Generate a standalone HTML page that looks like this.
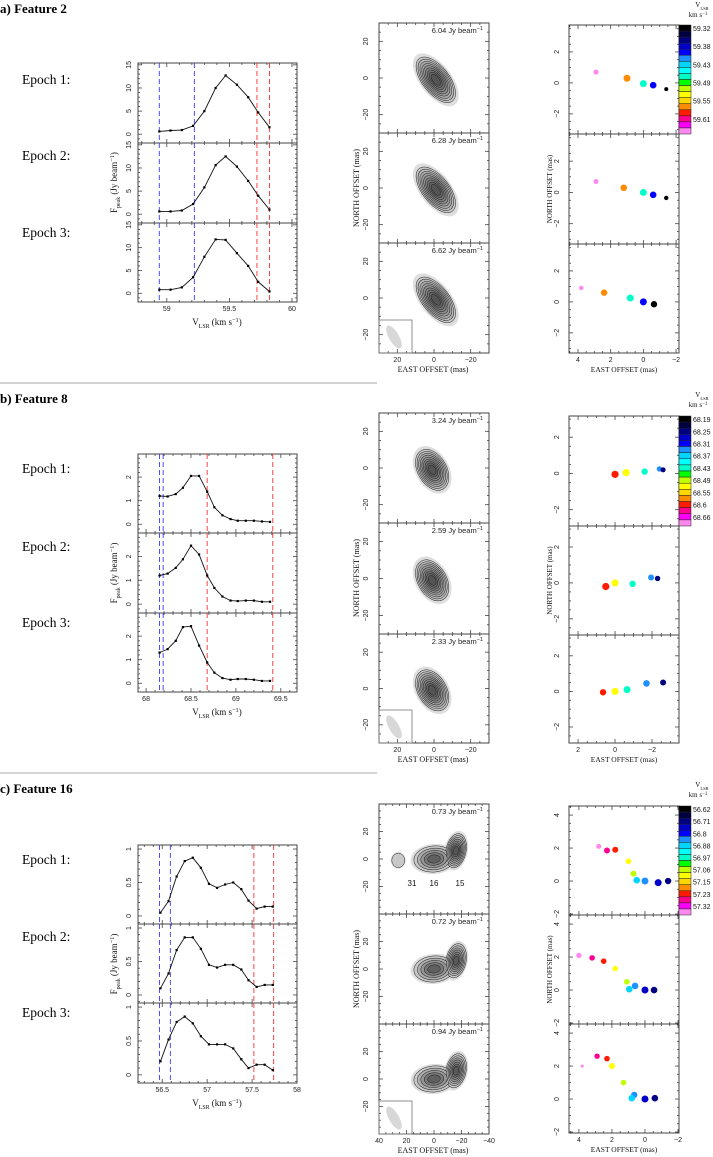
<!DOCTYPE html>
<html><head><meta charset="utf-8">
<style>
html,body{margin:0;padding:0;background:#fff;}
svg{display:block;}
text{font-family:"Liberation Sans",sans-serif;}
.serif{font-family:"Liberation Serif",serif;}
</style></head>
<body>
<svg id="fig" width="713" height="1157" viewBox="0 0 713 1157" xmlns="http://www.w3.org/2000/svg"></svg>
<script>
// ---------- DATA ----------
const specXA=[58.94,59.03,59.12,59.21,59.30,59.39,59.47,59.56,59.65,59.73,59.82];
const specA1=[0.6,0.8,0.9,1.8,5.0,10.0,12.7,10.7,8.0,4.7,1.5];
const specA2=[0.6,0.6,0.8,2.2,5.8,10.6,12.5,10.3,7.2,4.0,1.0];
const specA3=[0.8,0.8,1.3,3.5,8.0,11.8,11.7,8.8,6.0,2.5,0.4];
const vlinesBlueA=[58.94,59.22];
const vlinesRedA=[59.72,59.82];

const specXB=[68.15,68.24,68.33,68.41,68.50,68.59,68.68,68.76,68.85,68.94,69.02,69.11,69.20,69.29,69.38];
const specB1=[1.2,1.18,1.28,1.55,2.05,2.05,1.38,0.72,0.38,0.22,0.15,0.15,0.15,0.12,0.1];
const specB2=[1.2,1.28,1.52,1.88,2.45,2.08,1.2,0.68,0.32,0.15,0.13,0.15,0.15,0.1,0.1];
const specB3=[1.3,1.45,1.8,2.38,2.42,1.6,0.88,0.45,0.22,0.15,0.18,0.18,0.15,0.1,0.1];
const vlinesBlueB=[68.15,68.19];
const vlinesRedB=[68.68,69.41];

const specXC=[56.48,56.57,56.66,56.75,56.84,56.93,57.02,57.11,57.20,57.29,57.38,57.46,57.55,57.64,57.73];
const specC1=[0.05,0.22,0.59,0.82,0.87,0.72,0.48,0.42,0.47,0.5,0.4,0.23,0.11,0.14,0.14];
const specC2=[0.1,0.32,0.67,0.86,0.86,0.69,0.45,0.41,0.45,0.45,0.38,0.22,0.12,0.15,0.15];
const specC3=[0.2,0.52,0.78,0.86,0.76,0.57,0.45,0.45,0.45,0.39,0.23,0.1,0.15,0.15,0.07];
const vlinesBlueC=[56.47,56.59];
const vlinesRedC=[57.52,57.74];

const peaksA=["6.04","6.28","6.62"];
const peaksB=["3.24","2.59","2.33"];
const peaksC=["0.73","0.72","0.94"];

// spots: [east, north, colorIndex, radius]
const spotsA1=[[2.9,0.7,17,2.5],[1.0,0.3,13,3.5],[0,-0.05,8,3.5],[-0.6,-0.15,4,3.3],[-1.4,-0.4,0,2]];
const spotsA2=[[2.9,0.7,17,2.5],[1.2,0.3,13,3.3],[0,0,8,3.5],[-0.6,-0.15,4,3.3],[-1.4,-0.35,0,2.2]];
const spotsA3=[[3.8,0.9,17,2.2],[2.4,0.6,13,3.2],[0.8,0.25,8,3.5],[0,0,4,3.5],[-0.65,-0.15,0,3.2]];
const spotsB1=[[0,-0.05,14,3.6],[-0.6,0.05,11,3.6],[-1.6,0.1,8,3.2],[-2.4,0.25,5,2.7],[-2.6,0.2,2,2.5]];
const spotsB2=[[0.5,-0.2,14,3.6],[0,0,11,3.6],[-0.95,-0.05,8,3.2],[-1.95,0.3,5,3],[-2.3,0.25,2,2.7]];
const spotsB3=[[0.65,-0.05,14,3.2],[0,0,11,3.6],[-0.65,0.1,8,3.5],[-1.7,0.45,5,3.3],[-2.6,0.5,2,3]];
const spotsC1=[[2.8,2.1,17,2.5],[2.3,1.85,15,3],[1.8,1.9,14,3],[1.0,1.2,11,2.8],[0.7,0.45,10,3],[0.5,0.05,6,3.3],[0,0,5,3.5],[-0.8,-0.1,3,3.5],[-1.4,0,2,3.2]];
const spotsC2=[[4.0,2.1,17,2.7],[3.2,1.95,15,2.8],[2.5,1.75,14,2.8],[1.8,1.3,11,2.7],[1.1,0.5,10,2.8],[0.95,0.05,6,3.3],[0.6,0.25,5,3.3],[0,0,3,3.5],[-0.55,0,2,3.3]];
const spotsC3=[[3.8,2.0,17,1.6],[2.9,2.6,15,2.7],[2.3,2.45,14,2.8],[2.0,2.0,11,3],[1.3,1.0,10,2.8],[0.65,0.25,5,3.2],[0.8,0.05,6,3.3],[0,0,3,3.5],[-0.6,0.05,2,3.3]];

const cbarColors=["#000000","#000040","#000080","#0000c8","#0000ff","#1e90ff","#00d4ff","#00ffff","#00ffc8","#00ff00","#c0ff00","#ffff00","#ffd700","#ff8c00","#ff1a00","#ff0090","#ff00ff","#ff88f0"];
const cbarLabelsA=["59.32","59.38","59.43","59.49","59.55","59.61"];
const cbarLabelsB=["68.19","68.25","68.31","68.37","68.43","68.49","68.55","68.6","68.66"];
const cbarLabelsC=["56.62","56.71","56.8","56.88","56.97","57.06","57.15","57.23","57.32"];

// blobs: [east, north, rx(mas), ry(mas), rotation deg, levels]
const blobsA=[[-1,-1,7,14,-38,9]];
const blobsB=[[1,-1,7.5,11.5,-30,9]];
const blobsC1=[[0,0,14,9,-5,5],[-16,6,7,12,12,8],[26,-1,4.5,5,0,1]];
const blobsC=[[0,0,14,9,-5,5],[-16,6,7,12,12,7]];

// ---------- HELPERS ----------
const NS='http://www.w3.org/2000/svg';
const svg=document.getElementById('fig');
function el(tag,attrs,parent){const e=document.createElementNS(NS,tag);for(const k in attrs)e.setAttribute(k,attrs[k]);(parent||svg).appendChild(e);return e;}
function lin(d0,d1,p0,p1){return v=>p0+(v-d0)*(p1-p0)/(d1-d0);}
function grp(name){const g=el('g',{});return g;}
function txt(str,x,y,attrs,parent){const t=el('text',Object.assign({x:x,y:y},attrs),parent);t.textContent=str;return t;}

function axesFrame(g,x0,y0,x1,y1,sx,sy,xr,yr,xMaj,xMin,yMaj,yMin,xLabels,yLabels,yLabX,xLabY){
  el('rect',{x:x0,y:y0,width:x1-x0,height:y1-y0,fill:'none',stroke:'#444','stroke-width':1},g);
  const lo=Math.min(xr[0],xr[1]),hi=Math.max(xr[0],xr[1]);
  for(let v=Math.ceil(lo/xMin-1e-6)*xMin;v<=hi+1e-9;v+=xMin){
    const isMaj=Math.abs(v/xMaj-Math.round(v/xMaj))<1e-4;const L=isMaj?4:2;const X=sx(v);
    el('line',{x1:X,x2:X,y1:y1,y2:y1-L,stroke:'#444','stroke-width':0.8},g);
    el('line',{x1:X,x2:X,y1:y0,y2:y0+L,stroke:'#444','stroke-width':0.8},g);
  }
  const ylo=Math.min(yr[0],yr[1]),yhi=Math.max(yr[0],yr[1]);
  for(let v=Math.ceil(ylo/yMin-1e-6)*yMin;v<=yhi+1e-9;v+=yMin){
    const isMaj=Math.abs(v/yMaj-Math.round(v/yMaj))<1e-4;const L=isMaj?4:2;const Y=sy(v);
    el('line',{x1:x0,x2:x0+L,y1:Y,y2:Y,stroke:'#444','stroke-width':0.8},g);
    el('line',{x1:x1,x2:x1-L,y1:Y,y2:Y,stroke:'#444','stroke-width':0.8},g);
  }
  if(xLabels) xLabels.forEach(v=>{const t=txt(String(v).replace('-','\u2212'),sx(v),xLabY,{'font-size':7,'text-anchor':'middle',fill:'#222'},g);});
  if(yLabels) yLabels.forEach(v=>{const Y=sy(v);const t=txt(String(v).replace('-','\u2212'),yLabX,Y,{'font-size':7,'text-anchor':'middle',fill:'#222',transform:'rotate(-90 '+yLabX+' '+Y+')'},g);});
}

function supLabel(g,parts,x,y,size,rot,anchor){
  const t=el('text',{x:x,y:y,'font-size':size,'text-anchor':anchor||'middle',class:'serif',fill:'#111',transform:rot?'rotate(-90 '+x+' '+y+')':''},g);
  parts.forEach(p=>{const s=el('tspan',{},t);if(p[1]==='sub'){s.setAttribute('baseline-shift','sub');s.setAttribute('font-size',size*0.65);}if(p[1]==='sup'){s.setAttribute('baseline-shift','super');s.setAttribute('font-size',size*0.7);}s.textContent=p[0];});
  return t;
}

// ---------- SPECTRUM ----------
function spectrum(name,tops,bottom,xr,yr,xMaj,yMaj,yMin,xLabels,yLabels,xs,series,blue,red){
  const g=grp(name);
  const sx=lin(xr[0],xr[1],138,297);
  for(let i=0;i<3;i++){
    const pt=tops[i],pb=(i<2?tops[i+1]:bottom);
    const sy=lin(yr[0],yr[1],pb,pt);
    const pg=el('g',{},g);
    
    
    axesFrame(pg,138,pt,297,pb,sx,sy,xr,yr,xMaj,0.1,yMaj,yMin,i===2?xLabels:null,yLabels,131,bottom+9);
    blue.forEach(v=>{const l=el('line',{x1:sx(v),x2:sx(v),y1:pt,y2:pb,stroke:'#3a3aff','stroke-width':0.9,'stroke-dasharray':'5,3'},pg);});
    red.forEach(v=>{const l=el('line',{x1:sx(v),x2:sx(v),y1:pt,y2:pb,stroke:'#ff3030','stroke-width':0.9,'stroke-dasharray':'5,3'},pg);});
    const d=series[i].map((v,j)=>(j?'L':'M')+sx(xs[j]).toFixed(1)+','+sy(v).toFixed(1)).join('');
    const p=el('path',{d:d,fill:'none',stroke:'#111','stroke-width':0.9},pg);
    
    
    series[i].forEach((v,j)=>{const r=el('rect',{x:sx(xs[j])-1.1,y:sy(v)-1.1,width:2.2,height:2.2,fill:'#000'},pg);});
  }
  const yl=supLabel(g,[['F'],['peak','sub'],['  (Jy beam'],['\u22121','sup'],[')']],117,(tops[0]+bottom)/2,9,true);
  
  
  const xl=supLabel(g,[['V'],['LSR','sub'],['  (km s'],['\u22121','sup'],[')']],217,bottom+23,9,false);
  
  
}

// ---------- CONTOUR MAPS ----------
function contours(name,tops,bottom,lim,xLabels,peaks,blobSets){
  const g=grp(name);
  const x0=379,x1=489;
  const sx=lin(lim,-lim,x0,x1);
  for(let i=0;i<3;i++){
    const pt=tops[i],pb=(i<2?tops[i+1]:bottom);
    const sy=lin(-lim,lim,pb,pt);
    const pg=el('g',{},g);
    
    
    const ppm=(x1-x0)/(2*lim);
    const blobs=blobSets[i];
    const maxN=Math.max(...blobs.map(b=>b[5]));
    for(let k=0;k<=maxN;k++){
      blobs.forEach(b=>{
        const n=b[5];
        if(k>n) return;
        const f=k===0?1.22:1.05-(k-1)/n*0.9;
        const gv=k===0?222:Math.round(200-(k-1)*(130/Math.max(n,1)));
        const e=el('ellipse',{cx:sx(b[0]),cy:sy(b[1]),rx:b[2]*ppm*f,ry:b[3]*ppm*f,fill:'rgb('+gv+','+gv+','+gv+')',stroke:k===0?'none':'#222','stroke-width':0.5,transform:'rotate('+b[4]+' '+sx(b[0])+' '+sy(b[1])+')'},pg);
        
        
      });
    }
    axesFrame(pg,x0,pt,x1,pb,sx,sy,[lim,-lim],[-lim,lim],20,5,20,5,i===2?xLabels:null,[-20,0,20],368,bottom+9);
    const t=el('text',{x:483,y:pt+10,'font-size':7.5,'text-anchor':'end',fill:'#222'},pg);
    
    
    const s1=el('tspan',{},t);s1.textContent=peaks[i]+' Jy beam';
    const s2=el('tspan',{'baseline-shift':'super','font-size':5.5},t);s2.textContent='\u22121';
    if(i===2){
      const bx=el('rect',{x:x0,y:pb-33,width:33,height:33,fill:'none',stroke:'#777','stroke-width':0.8},pg);
      
      
      const be=el('ellipse',{cx:x0+15,cy:pb-16,rx:5,ry:13,fill:'#d8d8d8',transform:'rotate(-30 '+(x0+15)+' '+(pb-16)+')'},pg);
      
      
    }
  }
  const yl=txt('NORTH OFFSET  (mas)',359,(tops[0]+bottom)/2,{'font-size':8,'text-anchor':'middle',class:'serif',fill:'#111',transform:'rotate(-90 359 '+((tops[0]+bottom)/2)+')'},g);
  
  
  const xl=txt('EAST OFFSET   (mas)',433,bottom+19,{'font-size':8,'text-anchor':'middle',class:'serif',fill:'#111'},g);
  
  
}

// ---------- SPOT MAPS ----------
function spots(name,tops,bottom,xr,yr,xLabels,yLabels,sets,cbLabels,cbTop,cbBot,headY){
  const g=grp(name);
  const x0=569,x1=679;
  const sx=lin(xr[0],xr[1],x0,x1);
  for(let i=0;i<3;i++){
    const pt=tops[i],pb=(i<2?tops[i+1]:bottom);
    const sy=lin(yr[0],yr[1],pb,pt);
    const pg=el('g',{},g);
    
    
    axesFrame(pg,x0,pt,x1,pb,sx,sy,xr,yr,2,0.5,2,0.5,i===2?xLabels:null,yLabels,559,bottom+9);
    sets[i].forEach(s=>{const c=el('circle',{cx:sx(s[0]),cy:sy(s[1]),r:s[3],fill:cbarColors[s[2]]},pg);});
  }
  const cb=el('g',{},g);
  
  
  const h=(cbBot-cbTop)/cbarColors.length;
  cbarColors.forEach((c,k)=>{el('rect',{x:679,y:cbTop+k*h,width:12,height:h,fill:c,stroke:'#222','stroke-width':0.5},cb);});
  const every=cbLabels.length<=6?3:2;
  cbLabels.forEach((l,k)=>{const t=txt(l,693,cbTop+(k*every+0.5)*h+3,{'font-size':7,fill:'#111'},cb);});
  const hd=supLabel(cb,[['V'],['LSR','sub']],702,headY,7,false);
  
  
  const hd2=supLabel(cb,[['km s'],['\u22121','sup']],698,headY+10,7,false);
  
  
  const my=(tops[1]+tops[2])/2;
  const yl=txt('NORTH OFFSET  (mas)',552,my,{'font-size':7,'text-anchor':'middle',class:'serif',fill:'#111',transform:'rotate(-90 552 '+my+')'},g);
  
  
  const xl=txt('EAST OFFSET   (mas)',624,bottom+19,{'font-size':7.5,'text-anchor':'middle',class:'serif',fill:'#111'},g);
  
  
}

function header(title,ty,epochYs){
  const t=txt(title,0,ty,{'font-size':13,'font-weight':'bold',class:'serif',fill:'#000'});
  
  
  epochYs.forEach((y,i)=>{const e=txt('Epoch '+(i+1)+':',22,y,{'font-size':13.5,class:'serif',fill:'#000'});});
}

// separators
[383,773].forEach(y=>{const l=el('line',{x1:0,x2:377,y1:y,y2:y,stroke:'#aaa','stroke-width':1});});

// Feature 2
header('a) Feature 2',13,[84,160,237]);
spectrum('feature2-spectra',[63,143,223],302,[58.77,60.04],[-1.9,15.4],0.5,5,1,[59,59.5,60],[0,5,10,15],specXA,[specA1,specA2,specA3],vlinesBlueA,vlinesRedA);
contours('feature2-contours',[23,133,243],353,30,[20,0,-20],peaksA,[blobsA,blobsA,blobsA]);
spots('feature2-spots',[25,134,244],353,[4.55,-2.18],[-3.3,3.74],[4,2,0,-2],[-2,0,2],[spotsA1,spotsA2,spotsA3],cbarLabelsA,25,134,7);

// Feature 8
header('b) Feature 8',403,[473,551,627]);
spectrum('feature8-spectra',[454,533,613],692,[67.91,69.68],[-0.37,2.98],0.5,1,0.2,[68,68.5,69,69.5],[0,1,2],specXB,[specB1,specB2,specB3],vlinesBlueB,vlinesRedB);
contours('feature8-contours',[413,523,634],743,30,[20,0,-20],peaksB,[blobsB,blobsB,blobsB]);
spots('feature8-spots',[416,526,635],743,[2.49,-3.46],[-2.9,3.17],[2,0,-2],[-2,0,2],[spotsB1,spotsB2,spotsB3],cbarLabelsB,416,526,397);

// Feature 16
header('c) Feature 16',793,[864,941,1017]);
spectrum('feature16-spectra',[845,924,1003],1083,[56.23,58.0],[-0.12,1.06],0.5,0.5,0.1,[56.5,57,57.5,58],[0,0.5,1],specXC,[specC1,specC2,specC3],vlinesBlueC,vlinesRedC);
contours('feature16-contours',[804,914,1024],1134,40,[40,20,0,-20,-40],peaksC,[blobsC1,blobsC,blobsC]);
spots('feature16-spots',[806,915,1024],1133,[4.6,-2.06],[-2.06,4.55],[4,2,0,-2],[-2,0,2,4],[spotsC1,spotsC2,spotsC3],cbarLabelsC,806,915,787);

// component labels in feature 16 epoch 1
[["31",412],["16",434],["15",460]].forEach(c=>{const t=txt(c[0],c[1],886,{'font-size':8,'text-anchor':'middle',fill:'#111'});});
</script>
</body></html>
